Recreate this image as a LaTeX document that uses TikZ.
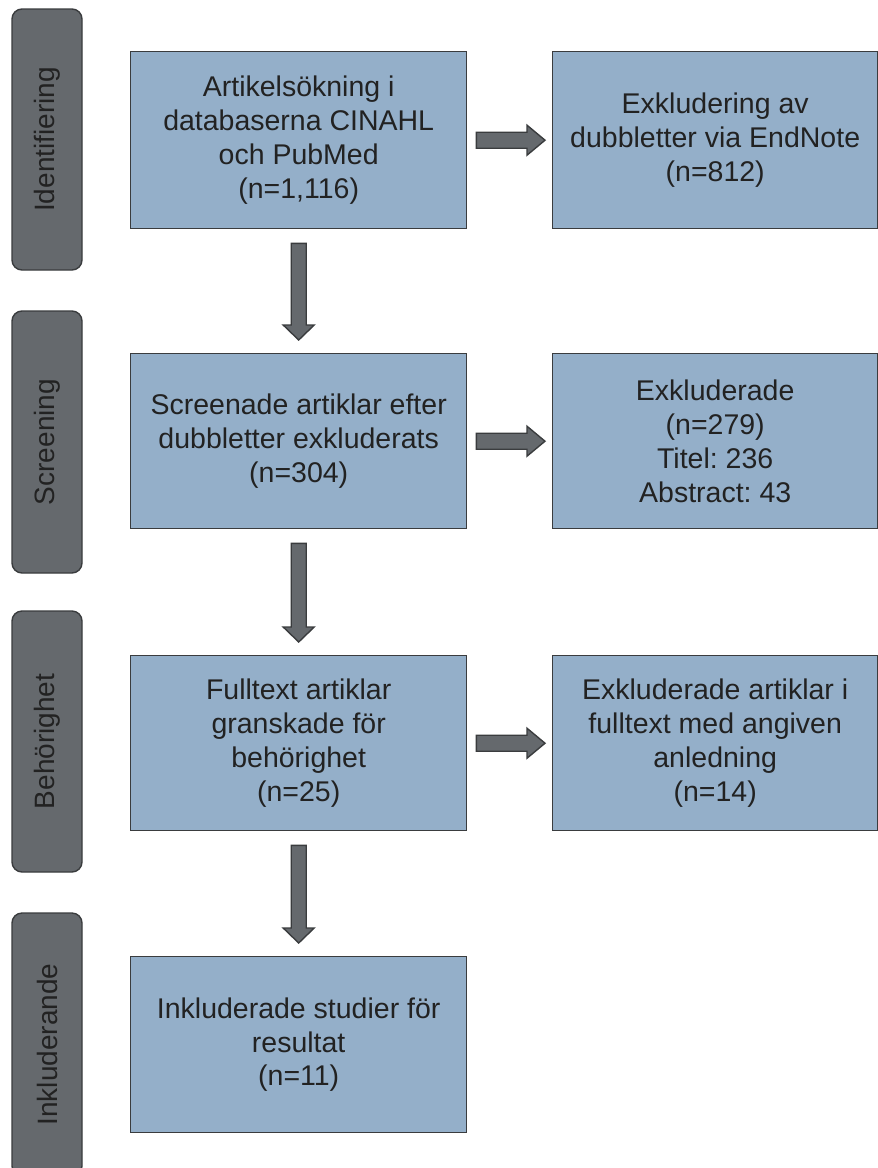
\documentclass[tikz,border=0pt]{standalone}
\usepackage{fontspec}
\setmainfont{Liberation Sans}
\usetikzlibrary{calc}
\frenchspacing
\definecolor{boxblue}{HTML}{94AFC9}
\definecolor{sidegray}{HTML}{65696D}
\definecolor{edgegray}{HTML}{3A3C3E}
\definecolor{txt}{HTML}{222222}
\tikzset{
  box/.style={draw=edgegray, line width=1.4pt, fill=boxblue, rectangle, anchor=north west,
    align=center, text=txt, font=\fontsize{28.5}{33.8}\selectfont, inner sep=0pt},
  sidelabel/.style={draw=edgegray, line width=1.4pt, fill=sidegray, rectangle, rounded corners=10pt,
    rotate=90, minimum height=70pt, text=txt, font=\fontsize{28}{33}\selectfont, inner sep=0pt},
  blockarrow/.style={draw=edgegray, line width=1.4pt, fill=sidegray, line join=miter},
  downblock/.style={to path={let \p1=(\tikztostart), \p2=(\tikztotarget) in
    (\x1-7.5pt,\y1-14pt) -- (\x1+7.5pt,\y1-14pt) -- (\x1+7.5pt,\y2+28pt) -- (\x1+15.5pt,\y2+28pt)
    -- (\x1,\y2+13pt) -- (\x1-15.5pt,\y2+28pt) -- (\x1-7.5pt,\y2+28pt) -- cycle}},
  rightblock/.style={to path={let \p1=(\tikztostart), \p2=(\tikztotarget) in
    (\x1+9pt,\y1+8pt) -- (\x2-25pt,\y1+8pt) -- (\x2-25pt,\y1+15pt) -- (\x2-7pt,\y1)
    -- (\x2-25pt,\y1-15pt) -- (\x2-25pt,\y1-8pt) -- (\x1+9pt,\y1-8pt) -- cycle}}
}
\begin{document}
\begin{tikzpicture}[x=1pt,y=-1pt]
\useasboundingbox (0,0) rectangle (878,1168);
\clip (0,0) rectangle (878,1168);
\fill[white] (0,0) rectangle (878,1168);

% side labels
\node[sidelabel, minimum width=261pt] (s1) at (47,139.5) {Identifiering};
\node[sidelabel, minimum width=262pt] (s2) at (47,442) {Screening};
\node[sidelabel, minimum width=261pt] (s3) at (47,741.5) {Behörighet};
\node[sidelabel, minimum width=263pt] (s4) at (47,1044.5) {Inkluderande};

% left column
\node[box, minimum width=336pt, minimum height=177pt] (b1) at (130,51)
  {Artikelsökning i\\databaserna CINAHL\\och PubMed\\(n=1,116)};
\node[box, minimum width=336pt, minimum height=175pt] (b2) at (130,353)
  {Screenade artiklar efter\\dubbletter exkluderats\\(n=304)};
\node[box, minimum width=336pt, minimum height=175pt] (b3) at (130,655)
  {Fulltext artiklar\\granskade för\\behörighet\\(n=25)};
\node[box, minimum width=336pt, minimum height=176pt] (b4) at (130,956)
  {Inkluderade studier för\\resultat\\(n=11)};

% right column
\node[box, minimum width=325pt, minimum height=177pt] (r1) at (552,51)
  {Exkludering av\\dubbletter via EndNote\\(n=812)};
\node[box, minimum width=325pt, minimum height=175pt] (r2) at (552,353)
  {Exkluderade\\(n=279)\\Titel: 236\\Abstract: 43};
\node[box, minimum width=325pt, minimum height=175pt] (r3) at (552,655)
  {Exkluderade artiklar i\\fulltext med angiven\\anledning\\(n=14)};

% arrows
\draw[blockarrow] (b1.south) to[downblock] (b2.north);
\draw[blockarrow] (b2.south) to[downblock] (b3.north);
\draw[blockarrow] (b3.south) to[downblock] (b4.north);
\draw[blockarrow] (b1.east) to[rightblock] (r1.west);
\draw[blockarrow] (b2.east) to[rightblock] (r2.west);
\draw[blockarrow] (b3.east) to[rightblock] (r3.west);
\end{tikzpicture}
\end{document}
